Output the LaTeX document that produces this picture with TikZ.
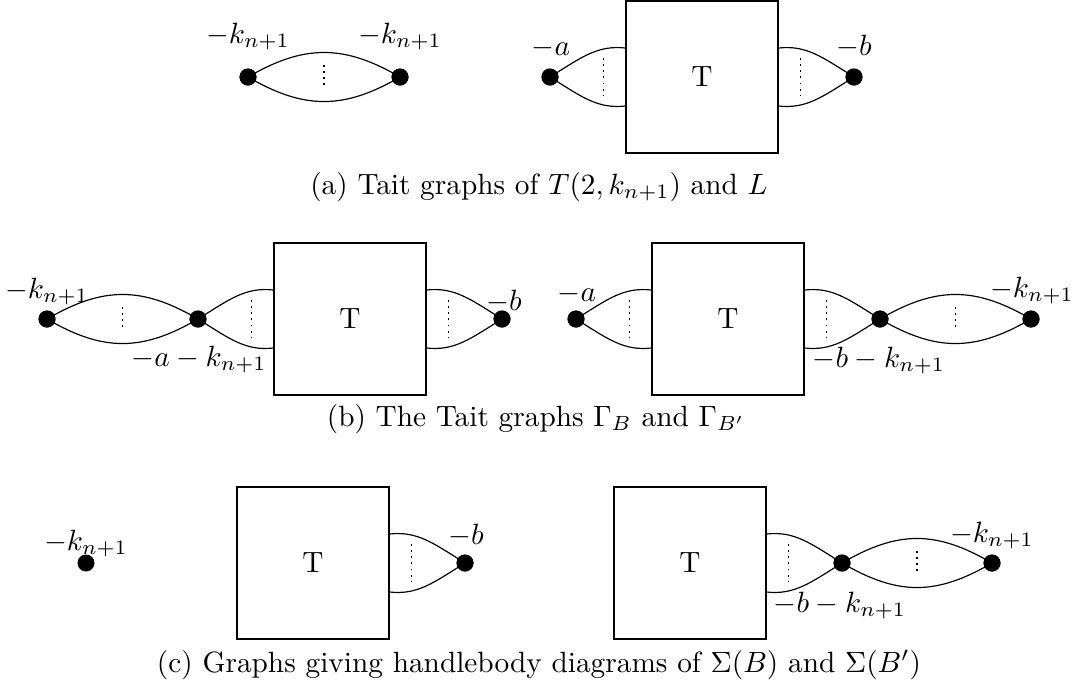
\documentclass[tikz,border=0pt]{standalone}
\usetikzlibrary{calc}
\newcommand\leftfan[2]{%
  \draw[wire] (#1.center) .. controls +(32,-20) and +(-28,-3) .. ($(#2.west)+(0,-29)$);
  \draw[wire] (#1.center) .. controls +(32,20) and +(-28,3) .. ($(#2.west)+(0,29)$);
  \draw[dotln] ($(#2.west)+(-22,-19)$) -- ($(#2.west)+(-22,19)$);}
\newcommand\rightfan[2]{%
  \draw[wire] ($(#1.east)+(0,-29)$) .. controls +(28,-3) and +(-32,-20) .. (#2.center);
  \draw[wire] ($(#1.east)+(0,29)$) .. controls +(28,3) and +(-32,20) .. (#2.center);
  \draw[dotln] ($(#1.east)+(22,-19)$) -- ($(#1.east)+(22,19)$);}
\newcommand\lenspair[3]{%
  \draw[wire] (#1.center) .. controls +(56,-32.7) and +(-56,-32.7) .. (#2.center);
  \draw[wire] (#1.center) .. controls +(56,32.7) and +(-56,32.7) .. (#2.center);
  \path ($(#1)!0.5!(#2)$) coordinate (#3);
  \draw[dotln] ($(#3)+(0,-12)$) -- ($(#3)+(0,12)$);}
\begin{document}
\begin{tikzpicture}[x=0.3411pt,y=-0.3411pt,
  vtx/.style={circle,fill=black,inner sep=0pt,minimum size=5.8pt},
  tbox/.style={draw,rectangle,inner sep=0pt,minimum width=51.85pt,minimum height=51.85pt,fill=white,line width=0.4pt},
  lbl/.style={anchor=base,inner sep=0pt},
  captxt/.style={anchor=base,inner sep=0pt},
  wire/.style={line width=0.4pt},
  dotln/.style={line width=0.6pt,dash pattern=on 0.6pt off 1.5pt}]
\useasboundingbox (0,0) rectangle (1073,691);

% ---------- row (a)
\node[vtx] (a1) at (248,77) {};
\node[vtx] (a2) at (400,77) {};
\node[vtx] (a3) at (550,77) {};
\node[tbox] (Ta) at (702,77) {T};
\node[vtx] (a4) at (854,77) {};
\lenspair{a1}{a2}{am}
\leftfan{a3}{Ta}
\rightfan{Ta}{a4}
\node[vtx] at (a1) {};\node[vtx] at (a2) {};\node[vtx] at (a3) {};\node[vtx] at (a4) {};
\node[lbl] (la1) at (248,43) {$-k_{n+1}$};
\node[lbl] (la2) at (400,43) {$-k_{n+1}$};
\node[lbl] (la3) at (551,55) {$-a$};
\node[lbl] (la4) at (854,55) {$-b$};
\node[captxt] (capa) at (539,194) {(a) Tait graphs of $T(2,k_{n+1})$ and $L$};

% ---------- row (b)
\node[vtx] (b1) at (47,319) {};
\node[vtx] (b2) at (198,319) {};
\node[tbox] (Tb1) at (350,319) {T};
\node[vtx] (b3) at (502,319) {};
\node[vtx] (b4) at (576,319) {};
\node[tbox] (Tb2) at (728,319) {T};
\node[vtx] (b5) at (880,319) {};
\node[vtx] (b6) at (1031,319) {};
\lenspair{b1}{b2}{bm1}
\leftfan{b2}{Tb1}
\rightfan{Tb1}{b3}
\leftfan{b4}{Tb2}
\rightfan{Tb2}{b5}
\lenspair{b5}{b6}{bm2}
\node[vtx] at (b1) {};\node[vtx] at (b2) {};\node[vtx] at (b3) {};
\node[vtx] at (b4) {};\node[vtx] at (b5) {};\node[vtx] at (b6) {};
\node[lbl] (lb1) at (47,298) {$-k_{n+1}$};
\node[lbl] (lb2) at (199,366) {$-a-k_{n+1}$};
\node[lbl] (lb3) at (504,310) {$-b$};
\node[lbl] (lb4) at (577,301) {$-a$};
\node[lbl] (lb5) at (879,367) {$-b-k_{n+1}$};
\node[lbl] (lb6) at (1032,297) {$-k_{n+1}$};
\node[captxt] (capb) at (536,426) {(b) The Tait graphs $\Gamma_B$ and $\Gamma_{B'}$};

% ---------- row (c)
\node[vtx] (c1) at (86,563) {};
\node[tbox] (Tc1) at (313,563) {T};
\node[vtx] (c2) at (465,563) {};
\node[tbox] (Tc2) at (690,563) {T};
\node[vtx] (c3) at (842,563) {};
\node[vtx] (c4) at (992,563) {};
\rightfan{Tc1}{c2}
\rightfan{Tc2}{c3}
\lenspair{c3}{c4}{cm}
\node[vtx] at (c2) {};\node[vtx] at (c3) {};\node[vtx] at (c4) {};
\node[lbl] (lc1) at (86,550) {$-k_{n+1}$};
\node[lbl] (lc2) at (466,544) {$-b$};
\node[lbl] (lc3) at (840,612) {$-b-k_{n+1}$};
\node[lbl] (lc4) at (992,542) {$-k_{n+1}$};
\node[captxt] (capc) at (539,672) {(c) Graphs giving handlebody diagrams of $\Sigma(B)$ and $\Sigma(B')$};
\end{tikzpicture}
\end{document}
